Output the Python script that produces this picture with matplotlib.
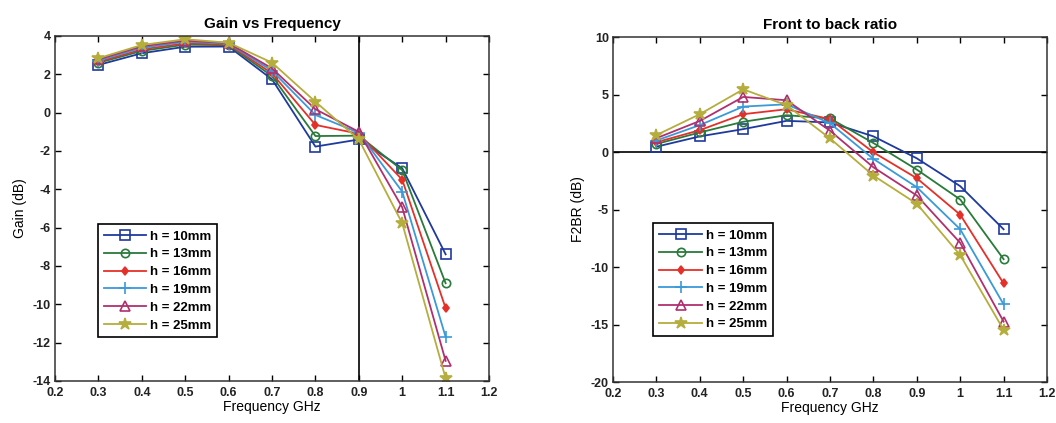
import matplotlib
matplotlib.use("Agg")
import matplotlib.pyplot as plt

freq = [0.3, 0.4, 0.5, 0.6, 0.7, 0.8, 0.9, 1.0, 1.1]
labels = ["h = 10mm", "h = 13mm", "h = 16mm", "h = 19mm", "h = 22mm", "h = 25mm"]

gain_10 = [2.49, 3.10, 3.44, 3.45, 1.74, -1.77, -1.40, -2.90, -7.39]
gain_13 = [2.60, 3.22, 3.55, 3.52, 1.91, -1.22, -1.20, -3.00, -8.90]
gain_16 = [2.65, 3.30, 3.62, 3.56, 2.05, -0.64, -1.10, -3.50, -10.20]
gain_19 = [2.72, 3.38, 3.70, 3.60, 2.19, -0.12, -1.05, -4.12, -11.70]
gain_22 = [2.78, 3.46, 3.76, 3.63, 2.31, 0.18, -1.00, -4.94, -12.95]
gain_25 = [2.84, 3.53, 3.83, 3.65, 2.61, 0.57, -1.40, -5.77, -13.86]

f2br_10 = [0.46, 1.36, 1.99, 2.71, 2.57, 1.36, -0.55, -2.97, -6.72]
f2br_13 = [0.70, 1.70, 2.63, 3.20, 2.92, 0.78, -1.53, -4.13, -9.32]
f2br_16 = [0.85, 1.90, 3.29, 3.72, 2.85, -0.03, -2.28, -5.45, -11.43]
f2br_19 = [1.00, 2.34, 3.95, 4.15, 2.50, -0.60, -3.06, -6.72, -13.25]
f2br_22 = [1.20, 2.70, 4.79, 4.50, 1.85, -1.33, -3.78, -7.90, -14.75]
f2br_25 = [1.47, 3.29, 5.45, 4.07, 1.18, -2.05, -4.50, -8.97, -15.47]

gain = [gain_10, gain_13, gain_16, gain_19, gain_22, gain_25]
f2br = [f2br_10, f2br_13, f2br_16, f2br_19, f2br_22, f2br_25]

colors = ["#1f3a9e", "#2a7a3a", "#e5302a", "#3a9ad8", "#b0306e", "#b5ad3c"]
markers = ["s", "o", "d", "+", "^", "*"]
mfill = [False, False, True, False, False, True]
msize = [7, 6, 4.5, 8, 7, 9]

plt.rcParams['font.family'] = ['Liberation Sans', 'DejaVu Sans']
plt.rcParams['axes.unicode_minus'] = False

fig = plt.figure(figsize=(10.56, 4.23), dpi=100)
ax1 = fig.add_axes([0.0521, 0.0993, 0.411, 0.8156])
ax2 = fig.add_axes([0.5805, 0.0969, 0.411, 0.8156])


def draw(ax, data):
    for d, c, m, f, s, lab in zip(data, colors, markers, mfill, msize, labels):
        ax.plot(freq, d, color=c, marker=m, markersize=s, lw=1.3,
                markerfacecolor=(c if f else "none"), markeredgecolor=c,
                markeredgewidth=1.2, label=lab)


draw(ax1, gain)
draw(ax2, f2br)

ax1.axvline(0.9, color="black", lw=1.2, zorder=0)
ax2.axhline(0, color="black", lw=1.2, zorder=0)

xt = [0.2, 0.3, 0.4, 0.5, 0.6, 0.7, 0.8, 0.9, 1.0, 1.1, 1.2]
xtl = ["0.2", "0.3", "0.4", "0.5", "0.6", "0.7", "0.8", "0.9", "1", "1.1", "1.2"]
for ax in (ax1, ax2):
    ax.set_xlim(0.2, 1.2)
    ax.set_xticks(xt)
    ax.set_xticklabels(xtl)
    ax.tick_params(direction="in", top=True, right=True, length=4, width=1,
                   labelsize=9)
    ax.tick_params(axis="x", pad=4)
    ax.tick_params(axis="y", pad=3)
    for sp in ax.spines.values():
        sp.set_linewidth(1.1)
        sp.set_color("#333333")
    ax.set_xlabel("Frequency GHz", fontsize=10, labelpad=1)

ax1.set_ylim(-14, 4)
ax1.set_yticks(list(range(-14, 5, 2)))
ax1.set_ylabel("Gain (dB)", fontsize=10, labelpad=4)
ax1.set_title("Gain vs Frequency", fontsize=11, fontweight="bold", pad=6)

ax2.set_ylim(-20, 10)
ax2.set_yticks([-20, -15, -10, -5, 0, 5, 10])
ax2.set_ylabel("F2BR (dB)", fontsize=10, labelpad=4)
ax2.set_title("Front to back ratio", fontsize=11, fontweight="bold", pad=6)

for ax in (ax1, ax2):
    for lab in ax.get_xticklabels() + ax.get_yticklabels():
        lab.set_fontweight("bold")
        lab.set_color("#222222")

for ax, anc in ((ax1, (0.083, 0.107)), (ax2, (0.078, 0.113))):
    leg = ax.legend(loc="lower left", bbox_to_anchor=anc,
                    handlelength=3.2, handletextpad=0.3, labelspacing=0.42,
                    borderpad=0.45, fancybox=False, framealpha=1,
                    edgecolor="black", prop={'weight': 'bold', 'size': 9.5})
    leg.get_frame().set_linewidth(1.2)

fig.savefig("out.png", dpi=100)
